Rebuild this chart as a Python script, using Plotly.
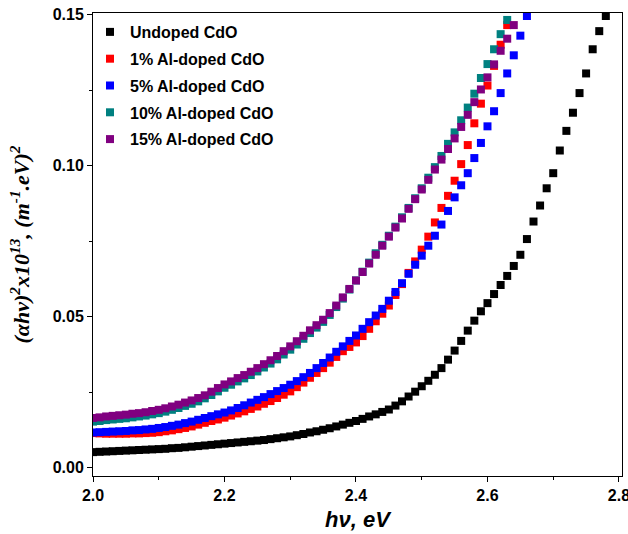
import plotly.graph_objects as go

hv = [2.00, 2.01, 2.02, 2.03, 2.04, 2.05, 2.06, 2.07, 2.08, 2.09,
      2.10, 2.11, 2.12, 2.13, 2.14, 2.15, 2.16, 2.17, 2.18, 2.19,
      2.20, 2.21, 2.22, 2.23, 2.24, 2.25, 2.26, 2.27, 2.28, 2.29,
      2.30, 2.31, 2.32, 2.33, 2.34, 2.35, 2.36, 2.37, 2.38, 2.39,
      2.40, 2.41, 2.42, 2.43, 2.44, 2.45, 2.46, 2.47, 2.48, 2.49,
      2.50, 2.51, 2.52, 2.53, 2.54, 2.55, 2.56, 2.57, 2.58, 2.59,
      2.60, 2.61, 2.62, 2.63, 2.64, 2.65, 2.66, 2.67, 2.68, 2.69,
      2.70, 2.71, 2.72, 2.73, 2.74, 2.75, 2.76, 2.77, 2.78]

undoped = [0.0052, 0.0053, 0.0054, 0.0055, 0.0056, 0.0057, 0.0058, 0.0059, 0.0060, 0.0061,
           0.0062, 0.0063, 0.0065, 0.0066, 0.0068, 0.0070, 0.0072, 0.0074, 0.0076, 0.0078,
           0.0080, 0.0082, 0.0084, 0.0086, 0.0088, 0.0090, 0.0092, 0.0095, 0.0098, 0.0101,
           0.0104, 0.0108, 0.0112, 0.0117, 0.0121, 0.0126, 0.0131, 0.0137, 0.0143, 0.0149,
           0.0155, 0.0162, 0.0170, 0.0177, 0.0185, 0.0193, 0.0206, 0.0220, 0.0236, 0.0252,
           0.0270, 0.0288, 0.0308, 0.0330, 0.0358, 0.0388, 0.0420, 0.0454, 0.0487, 0.0518,
           0.0545, 0.0575, 0.0605, 0.0635, 0.0668, 0.0705, 0.0757, 0.0815, 0.0868, 0.0925,
           0.0975, 0.1050, 0.1115, 0.1175, 0.1240, 0.1305, 0.1385, 0.1445, 0.1495]

al1 = [0.0115, 0.0114, 0.0113, 0.0113, 0.0113, 0.0113, 0.0114, 0.0114, 0.0115, 0.0116,
       0.0118, 0.0121, 0.0124, 0.0128, 0.0132, 0.0137, 0.0143, 0.0149, 0.0155, 0.0160,
       0.0166, 0.0173, 0.0180, 0.0187, 0.0195, 0.0203, 0.0212, 0.0221, 0.0231, 0.0242,
       0.0253, 0.0267, 0.0282, 0.0298, 0.0314, 0.0330, 0.0348, 0.0367, 0.0386, 0.0400,
       0.0415, 0.0436, 0.0460, 0.0485, 0.0510, 0.0537, 0.0572, 0.0608, 0.0645, 0.0683,
       0.0722, 0.0765, 0.0812, 0.0860, 0.0900, 0.0950, 0.1005, 0.1068, 0.1140, 0.1205,
       0.1265, 0.1330, 0.1400, 0.1465]

al5 = [0.0117, 0.0118, 0.0119, 0.0120, 0.0121, 0.0122, 0.0124, 0.0125, 0.0127, 0.0129,
       0.0132, 0.0135, 0.0139, 0.0143, 0.0148, 0.0153, 0.0159, 0.0165, 0.0171, 0.0177,
       0.0183, 0.0190, 0.0198, 0.0207, 0.0216, 0.0225, 0.0234, 0.0244, 0.0254, 0.0264,
       0.0275, 0.0287, 0.0300, 0.0314, 0.0330, 0.0347, 0.0365, 0.0384, 0.0402, 0.0420,
       0.0438, 0.0460, 0.0482, 0.0504, 0.0526, 0.0553, 0.0582, 0.0611, 0.0642, 0.0672,
       0.0702, 0.0735, 0.0768, 0.0805, 0.0850, 0.0895, 0.0935, 0.0975, 0.1025, 0.1075,
       0.1130, 0.1180, 0.1240, 0.1305, 0.1365, 0.1430, 0.1495]

al10 = [0.0153, 0.0155, 0.0158, 0.0160, 0.0162, 0.0164, 0.0167, 0.0170, 0.0173, 0.0177,
        0.0181, 0.0186, 0.0192, 0.0198, 0.0205, 0.0212, 0.0220, 0.0230, 0.0241, 0.0253,
        0.0265, 0.0275, 0.0286, 0.0296, 0.0307, 0.0319, 0.0332, 0.0345, 0.0359, 0.0375,
        0.0391, 0.0408, 0.0427, 0.0446, 0.0464, 0.0483, 0.0506, 0.0532, 0.0560, 0.0590,
        0.0620, 0.0649, 0.0679, 0.0710, 0.0738, 0.0768, 0.0798, 0.0829, 0.0860, 0.0892,
        0.0925, 0.0960, 0.0995, 0.1032, 0.1072, 0.1110, 0.1150, 0.1192, 0.1238, 0.1290,
        0.1336, 0.1385, 0.1435, 0.1482]

al15 = [0.0165, 0.0167, 0.0170, 0.0172, 0.0174, 0.0176, 0.0179, 0.0181, 0.0184, 0.0188,
        0.0192, 0.0197, 0.0203, 0.0209, 0.0216, 0.0223, 0.0231, 0.0240, 0.0252, 0.0264,
        0.0276, 0.0286, 0.0297, 0.0307, 0.0318, 0.0330, 0.0343, 0.0356, 0.0370, 0.0386,
        0.0402, 0.0419, 0.0437, 0.0455, 0.0472, 0.0490, 0.0512, 0.0537, 0.0564, 0.0592,
        0.0620, 0.0648, 0.0676, 0.0705, 0.0735, 0.0765, 0.0795, 0.0825, 0.0857, 0.0889,
        0.0921, 0.0953, 0.0987, 0.1020, 0.1055, 0.1090, 0.1128, 0.1168, 0.1210, 0.1252,
        0.1292, 0.1335, 0.1380, 0.1420, 0.1465]

series_names = ["Undoped CdO", "1% Al-doped CdO", "5% Al-doped CdO",
                "10% Al-doped CdO", "15% Al-doped CdO"]
series_values = [undoped, al1, al5, al10, al15]
series_colors = ["#000000", "#FF0000", "#0000FF", "#008080", "#800080"]

x_ticks = [2.0, 2.2, 2.4, 2.6, 2.8]
y_ticks = [0.00, 0.05, 0.10, 0.15]

fig = go.Figure()
for i, (name, vals, col) in enumerate(zip(series_names, series_values, series_colors)):
    fig.add_trace(go.Scatter(
        x=hv[:len(vals)], y=vals, mode="markers", name=name,
        legendgroup=f"g{i}",
        marker=dict(symbol="square", size=8, color=col, line=dict(width=0)),
    ))

tick_font = dict(family="Arial, Liberation Sans", size=16, color="black", weight="bold")

fig.update_layout(
    width=628, height=534,
    margin=dict(l=93, r=6, t=13, b=58),
    plot_bgcolor="white", paper_bgcolor="white",
    showlegend=True,
    legend=dict(x=-0.0057, y=0.9957, xanchor="left", yanchor="top",
                bgcolor="rgba(0,0,0,0)", borderwidth=0, tracegroupgap=3,
                font=dict(family="Arial, Liberation Sans", size=16, color="black", weight="bold")),
    xaxis=dict(
        range=[2.0, 2.8046], tickvals=x_ticks, tickformat=".1f",
        showline=True, linecolor="black", linewidth=1, mirror=True,
        ticks="outside", ticklen=5, tickwidth=1, tickcolor="black",
        minor=dict(ticks="outside", ticklen=3, dtick=0.1, tickcolor="black"),
        showgrid=False, zeroline=False, tickfont=tick_font,
        ticklabeloverflow="allow", automargin=False,
        title=dict(text="hν, eV", standoff=8,
                   font=dict(family="Arial, Liberation Sans", size=22, color="black",
                             weight="bold", style="italic")),
    ),
    yaxis=dict(
        range=[-0.0027, 0.1505], tickvals=y_ticks, tickformat=".2f",
        showline=True, linecolor="black", linewidth=1, mirror=True,
        ticks="outside", ticklen=5, tickwidth=1, tickcolor="black",
        minor=dict(ticks="outside", ticklen=3, dtick=0.025, tickcolor="black"),
        showgrid=False, zeroline=False, tickfont=tick_font,
        ticklabeloverflow="allow", automargin=False,
        title=dict(text="(αhν)<sup>2</sup>x10<sup>13</sup>, (m<sup>-1</sup>.eV)<sup>2</sup>",
                   standoff=16,
                   font=dict(family="Liberation Serif, Times New Roman", size=22,
                             color="black", weight="bold", style="italic")),
    ),
)

fig.write_html("out.html",
               config={"displayModeBar": False},
               post_script="document.body.style.margin='0';document.body.style.padding='0';")
